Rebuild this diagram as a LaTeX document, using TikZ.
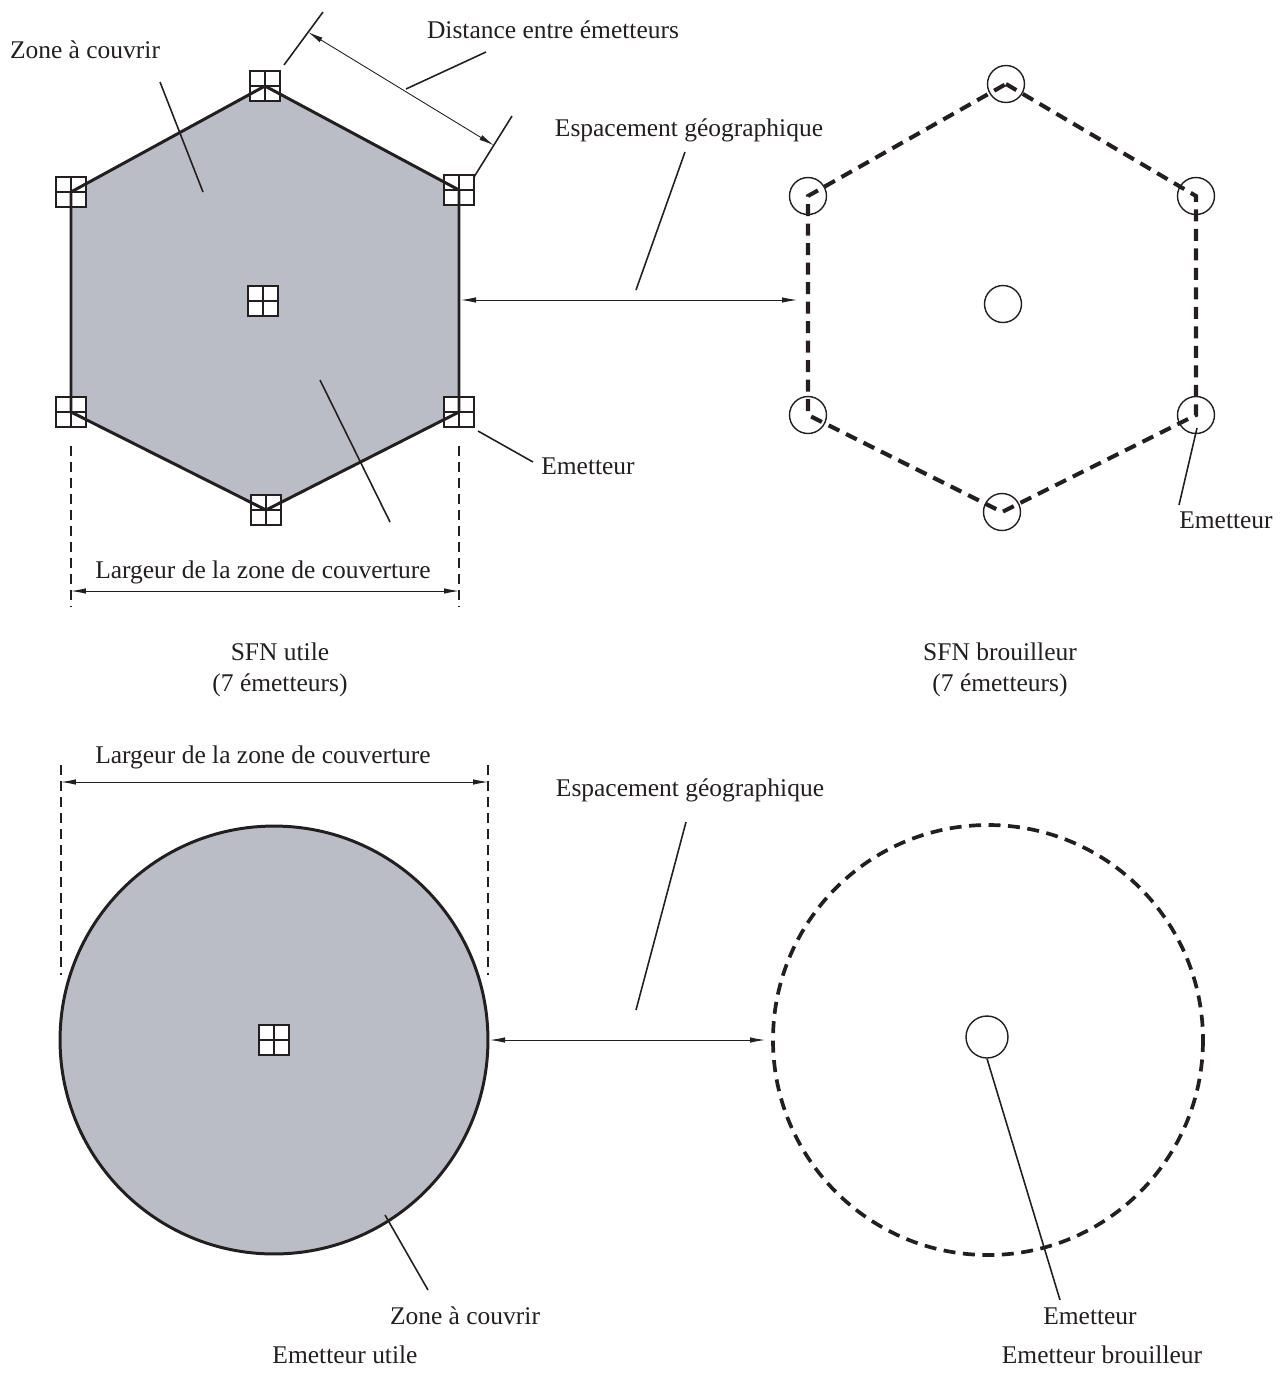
\documentclass[tikz,border=0pt]{standalone}
\usepackage{fontspec}
\setmainfont{Liberation Serif}
\usetikzlibrary{arrows.meta,positioning,calc}
\definecolor{ink}{HTML}{231F20}
\definecolor{zonecol}{HTML}{BABDC5}

\begin{document}
\begin{tikzpicture}[x=0.02cm, y=-0.02cm,
  font=\fontsize{14.5}{16}\selectfont,
  lbl/.style={text=ink, inner sep=0pt},
  cap2/.style={text=ink, inner sep=0pt, align=center,
              font=\fontsize{14.5}{17.6}\selectfont},
  tx/.style={draw=ink, fill=white, line width=1.1pt, minimum size=0.6cm,
            inner sep=0pt,
            path picture={\draw[ink, line width=1.1pt]
              (path picture bounding box.north) -- (path picture bounding box.south)
              (path picture bounding box.west) -- (path picture bounding box.east);}},
  rx/.style={circle, draw=ink, line width=0.8pt, minimum size=0.74cm, inner sep=0pt},
  lead/.style={draw=ink, line width=0.9pt},
  dimarr/.style={draw=ink, line width=0.5pt,
                {Latex[length=3mm,width=1.1mm]}-{Latex[length=3mm,width=1.1mm]}},
  extl/.style={draw=ink, line width=0.8pt, dash pattern=on 2mm off 1.2mm},
  rim/.style={draw=ink, line width=1.7pt, line join=miter},
  jam/.style={draw=ink, line width=2.3pt, dash pattern=on 2.4mm off 1.5mm}]

\useasboundingbox (0,0) rectangle (1284,1374);

% ---------------------------------------------------------------- wanted SFN
\coordinate (u1) at (265,86);
\coordinate (u2) at (459,190);
\coordinate (u3) at (459,412);
\coordinate (u4) at (266,510);
\coordinate (u5) at (71,412);
\coordinate (u6) at (71,192);
\fill[zonecol] (u1) -- (u2) -- (u3) -- (u4) -- (u5) -- (u6) -- cycle;
\foreach \i in {1,...,6}
  \node[tx] (tu\i) at (u\i) {};
\node[tx] (tu0) at (263,301) {};
\draw[rim] (u1) -- (u2) -- (u3) -- (u4) -- (u5) -- (u6) -- cycle;

% zone label
\node[lbl] (zoneU) at (85,50) {Zone à couvrir};
\coordinate (zu1) at (160,82);  \coordinate (zu2) at (203,192);
\coordinate (zu3) at (320,380); \coordinate (zu4) at (390,522);
\draw[lead] (zu1) -- (zu2);
\draw[lead] (zu3) -- (zu4);

% distance between transmitters
\node[lbl] (distT) at (553,30) {Distance entre émetteurs};
\coordinate (da1) at (284,65);  \coordinate (da2) at (323,12);
\coordinate (db1) at (474,177); \coordinate (db2) at (512,116);
\draw[lead] (da1) -- (da2);
\draw[lead] (db1) -- (db2);
\draw[dimarr] ($(da1)!0.62!(da2)$) -- ($(db1)!0.52!(db2)$);
\coordinate (dl1) at (406,89);  \coordinate (dl2) at (486,52);
\draw[lead] (dl1) -- (dl2);

% transmitter label
\node[lbl] (emU) at (588,466) {Emetteur};
\coordinate (eu1) at (478,431); \coordinate (eu2) at (533,462);
\draw[lead] (eu1) -- (eu2);

% width of coverage
\coordinate (wl1) at (71,446);  \coordinate (wl2) at (71,607);
\coordinate (wr1) at (459,446); \coordinate (wr2) at (459,607);
\draw[extl] (wl1) -- (wl2);
\draw[extl] (wr1) -- (wr2);
\draw[dimarr] (71,591) -- (459,591);
\node[lbl] (largU) at (263,572) {Largeur de la zone de couverture};

\node[cap2] (sfnU) at (280,670) {SFN utile\\(7 émetteurs)};

% ---------------------------------------------------------------- jamming SFN
\coordinate (b1) at (1006,84);
\coordinate (b2) at (1196,196);
\coordinate (b3) at (1196,415);
\coordinate (b4) at (1002,512);
\coordinate (b5) at (808,415);
\coordinate (b6) at (808,196);
\draw[jam] (b1) -- (b2) -- (b3) -- (b4) -- (b5) -- (b6) -- cycle;
\foreach \i in {1,...,6}
  \node[rx] (rb\i) at (b\i) {};
\node[rx] (rb0) at (1003,304) {};

\node[lbl] (emB) at (1226,520) {Emetteur};
\coordinate (eb1) at (1197,428); \coordinate (eb2) at (1179,505);
\draw[lead] (eb1) -- (eb2);

\node[cap2] (sfnB) at (1000,670) {SFN brouilleur\\(7 émetteurs)};

% spacing between the two networks
\node[lbl] (espT) at (689,130) {Espacement géographique};
\coordinate (sa) at (461,300); \coordinate (sb) at (797,300);
\draw[dimarr] (sa) -- (sb);
\coordinate (sl1) at (685,152); \coordinate (sl2) at (636,290);
\draw[lead] (sl1) -- (sl2);

% ================================================================ single transmitters
\node[circle, fill=zonecol, draw=ink, line width=1.7pt, minimum size=8.56cm,
      inner sep=0pt] (zoneC) at (274,1040) {};
\node[tx] (tc) at (274,1040) {};

\coordinate (cl1) at (61,765);  \coordinate (cl2) at (61,975);
\coordinate (cr1) at (488,765); \coordinate (cr2) at (488,975);
\draw[extl] (cl1) -- (cl2);
\draw[extl] (cr1) -- (cr2);
\draw[dimarr] (61,782) -- (488,782);
\node[lbl] (largC) at (263,757) {Largeur de la zone de couverture};

\node[lbl] (zoneC2) at (465,1316) {Zone à couvrir};
\coordinate (zc1) at (385,1215); \coordinate (zc2) at (428,1290);
\draw[lead] (zc1) -- (zc2);
\node[lbl] (utC) at (345,1355) {Emetteur utile};

\draw[jam, line width=2.1pt] (988,1040) circle (215);
\node[rx, minimum size=0.84cm] (rc) at (987,1037) {};
\node[lbl] (emC) at (1090,1316) {Emetteur};
\coordinate (ec2) at (1060,1300);
\draw[lead] (rc.south) -- (ec2);
\node[lbl] (brC) at (1102,1355) {Emetteur brouilleur};

\node[lbl] (espC) at (690,790) {Espacement géographique};
\coordinate (ta) at (490,1040); \coordinate (tb) at (765,1040);
\draw[dimarr] (ta) -- (tb);
\coordinate (tl1) at (686,822); \coordinate (tl2) at (636,1010);
\draw[lead] (tl1) -- (tl2);

\end{tikzpicture}
\end{document}
